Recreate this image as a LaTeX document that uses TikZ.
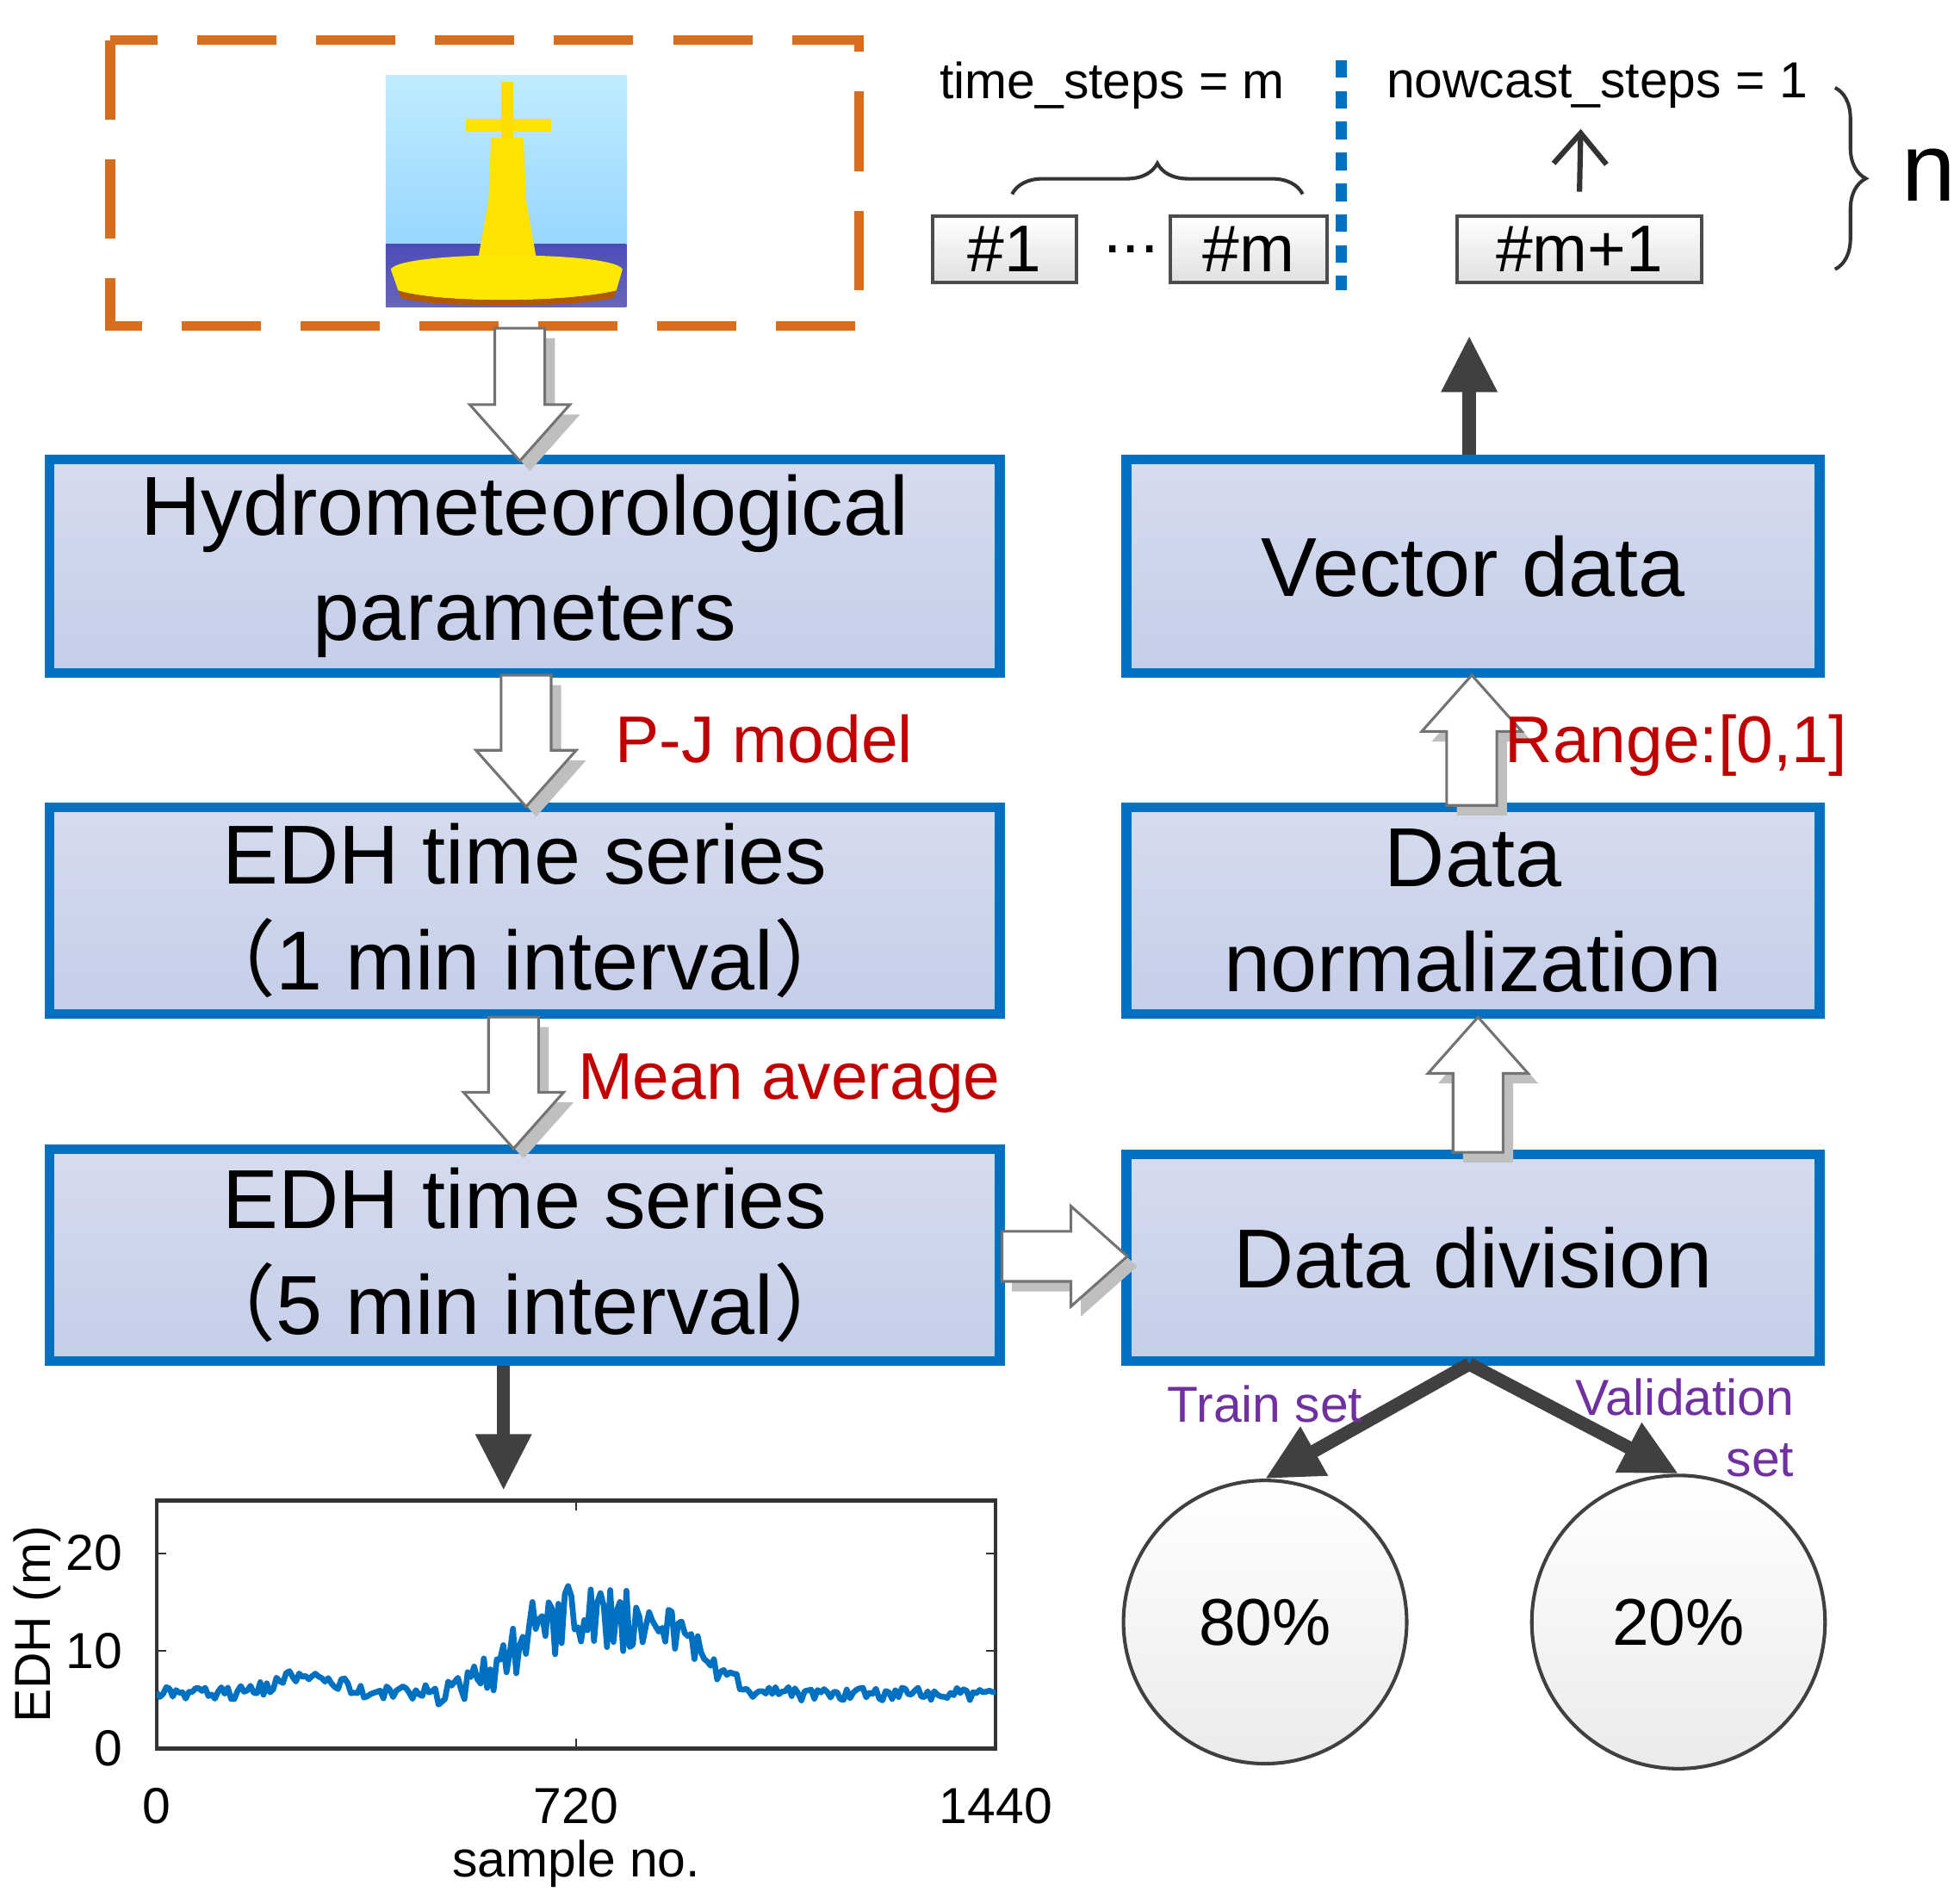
\documentclass[tikz,border=0pt]{standalone}
\usepackage{fontspec}
\setmainfont{Liberation Sans}
\newfontfamily\cjk{Noto Sans CJK SC}
\usetikzlibrary{decorations.pathreplacing,arrows.meta}
\definecolor{bblue}{RGB}{0,112,192}
\definecolor{bfill}{RGB}{214,220,238}
\definecolor{bfill2}{RGB}{196,206,232}
\definecolor{dred}{RGB}{192,0,0}
\definecolor{purp}{RGB}{112,48,160}
\definecolor{dorange}{RGB}{214,110,30}
\tikzset{
 box/.style={draw=bblue,line width=2.2pt,top color=bfill,bottom color=bfill2,align=center,font=\fontsize{19}{24}\selectfont,inner sep=0pt},
 sbox/.style={draw=black!70,line width=0.8pt,top color=white,bottom color=black!12,font=\fontsize{15}{18}\selectfont,inner sep=0pt},
 lab/.style={text=dred,font=\fontsize{15}{18}\selectfont},
 plab/.style={text=purp,font=\fontsize{11.5}{14}\selectfont},
 ttext/.style={font=\fontsize{11.5}{14}\selectfont},
 solid arrow/.style={draw=black!75,line width=3pt,-{Triangle[length=0.45cm,width=0.42cm]}},
 harrow/.style={fill=white,draw=black!55,line width=0.6pt},
 hshadow/.style={fill=black!25,draw=none},
 circ/.style={circle,draw=black!75,line width=0.8pt,top color=white,bottom color=black!8,font=\fontsize{15}{18}\selectfont}
}
\newcommand\darr[3]{%
 \fill[hshadow] ({#1-20+8},{#2+8})--({#1+20+8},{#2+8})--({#1+20+8},{#3-45+8})--({#1+40+8},{#3-45+8})--({#1+8},{#3+8})--({#1-40+8},{#3-45+8})--({#1-20+8},{#3-45+8})--cycle;
 \draw[harrow] ({#1-20},{#2})--({#1+20},{#2})--({#1+20},{#3-45})--({#1+40},{#3-45})--({#1},{#3})--({#1-40},{#3-45})--({#1-20},{#3-45})--cycle;}
\newcommand\uarr[3]{%
 \fill[hshadow] ({#1-20+8},{#2+8})--({#1+20+8},{#2+8})--({#1+20+8},{#3+45+8})--({#1+40+8},{#3+45+8})--({#1+8},{#3+8})--({#1-40+8},{#3+45+8})--({#1-20+8},{#3+45+8})--cycle;
 \draw[harrow] ({#1-20},{#2})--({#1+20},{#2})--({#1+20},{#3+45})--({#1+40},{#3+45})--({#1},{#3})--({#1-40},{#3+45})--({#1-20},{#3+45})--cycle;}
\newcommand\rarr[3]{%
 \fill[hshadow] ({#2+8},{#1-20+8})--({#2+8},{#1+20+8})--({#3-45+8},{#1+20+8})--({#3-45+8},{#1+40+8})--({#3+8},{#1+8})--({#3-45+8},{#1-40+8})--({#3-45+8},{#1-20+8})--cycle;
 \draw[harrow] ({#2},{#1-20})--({#2},{#1+20})--({#3-45},{#1+20})--({#3-45},{#1+40})--({#3},{#1})--({#3-45},{#1-40})--({#3-45},{#1-20})--cycle;}
\begin{document}
\begin{tikzpicture}[x=0.01cm,y=-0.01cm]
\useasboundingbox (0,0) rectangle (1560,1520);
% camera frame
\draw[dorange,line width=2.2pt,dash pattern=on 18pt off 9pt] (88,32) rectangle (686,260);
% buoy picture
\shade[top color=blue!30!cyan!25,bottom color=blue!40!cyan!40] (308,60) rectangle (500,195);
\shade[top color=blue!60!black!70,bottom color=blue!55!black!60] (308,195) rectangle (500,245);
\fill[yellow!85!orange] (392,110)--(418,110)--(420,160)--(428,205)--(382,205)--(390,160)--cycle;
\fill[yellow!85!orange] (372,95) rectangle (440,105);
\fill[yellow!80!orange] (400,65) rectangle (410,110);
\fill[yellow!90!orange] (312,215) .. controls (320,200) and (490,200) .. (497,215) -- (492,232) .. controls (450,242) and (350,242) .. (318,232) -- cycle;
\fill[orange!70!black] (318,232) .. controls (350,242) and (450,242) .. (492,232) -- (490,238) .. controls (450,246) and (350,246) .. (320,238) -- cycle;
% boxes
\node[box,minimum width=7.58cm,minimum height=1.70cm] (hydro) at (419,452) {Hydrometeorological\\parameters};
\node[box,minimum width=7.58cm,minimum height=1.65cm] (edh1) at (419,727) {EDH time series\\{\cjk （}1 min interval{\cjk ）}};
\node[box,minimum width=7.58cm,minimum height=1.69cm] (edh5) at (419,1002) {EDH time series\\{\cjk （}5 min interval{\cjk ）}};
\node[box,minimum width=5.53cm,minimum height=1.70cm] (vec) at (1176,452) {Vector data};
\node[box,minimum width=5.53cm,minimum height=1.65cm] (norm) at (1176,727) {Data\\normalization};
\node[box,minimum width=5.53cm,minimum height=1.65cm] (div) at (1176,1004) {Data division};
% hollow arrows
\darr{415}{262}{368}
\darr{420}{539}{644}
\darr{410}{812}{917}
\rarr{1003}{800}{900}
\uarr{1180}{920}{812}
\uarr{1175}{643}{539}
% labels
\node[lab] at (610,590) {P-J model};
\node[lab] at (630,865) {Mean average};
\node[lab] at (1338,595) {Range:[0,1]};
% solid arrows
\coordinate (vtop) at (1173,268);
\draw[solid arrow] (vec.north -| vtop) -- (vtop);
\coordinate (pt) at (402,1190);
\draw[solid arrow] (edh5.south -| pt) -- (pt);
% circles
\node[circ,minimum size=2.26cm] (c80) at (1010,1295) {80\%};
\node[circ,minimum size=2.34cm] (c20) at (1340,1295) {20\%};
\coordinate (dsplit) at (1173,1089);
\draw[solid arrow] (dsplit) -- (c80.north);
\draw[solid arrow] (dsplit) -- (c20.north);
\node[plab] at (1010,1121) {Train set};
\node[plab,align=right] at (1345,1140) {Validation\\set};
% top
\node[ttext] at (888,68) {time\_steps = m};
\node[ttext] at (1275,68) {nowcast\_steps = 1};
\draw[black!80,line width=0.8pt,decorate,decoration={brace,amplitude=7pt}] (808,155) -- (1040,155);
\node[sbox,minimum width=1.15cm,minimum height=0.53cm] (b1) at (802,199) {\#1};
\node[font=\fontsize{15}{18}\selectfont] (dots) at (903,199) {...};
\node[sbox,minimum width=1.25cm,minimum height=0.53cm] (bm) at (997,199) {\#m};
\node[sbox,minimum width=1.95cm,minimum height=0.53cm] (bm1) at (1261,199) {\#m+1};
\coordinate (nt) at (1262,103);
\draw[black!80,line width=1.2pt,-{Straight Barb[length=7pt,width=12pt]}] (bm1.north) ++(0,-18) -- (nt);
\draw[bblue,line width=2.5pt,dash pattern=on 4pt off 3pt] (1071,48) -- (1071,232);
\draw[black!80,line width=0.8pt,decorate,decoration={brace,amplitude=7pt}] (1465,70) -- (1465,215);
\node[font=\fontsize{22}{26}\selectfont] at (1540,140) {n};
% plot
\draw[black!80,line width=0.8pt] (125,1198) rectangle (795,1396);
\foreach \t/\l in {1396/0,1318/10,1240/20}{
 \draw[black!80] (125,\t) -- (133,\t); \draw[black!80] (795,\t) -- (787,\t);
 \node[ttext,anchor=east] at (110,\t) {\l};}
\foreach \xx/\l in {125/0,460/720,795/1440}{
 \draw[black!80] (\xx,1396) -- (\xx,1388); \draw[black!80] (\xx,1198) -- (\xx,1206);
 \node[ttext] at (\xx,1442) {\l};}
\node[ttext] at (460,1488) {sample no.};
\node[ttext,rotate=90] at (30,1297) {EDH (m)};
\pgfmathsetseed{7}
\begin{scope}[shift={(125,1396)},xscale=0.4653,yscale=-7.8]
\clip (0,0) rectangle (1440,25);
\draw[bblue,line width=1.3pt,line join=round] plot[samples=260,domain=0:1440]
 (\x,{5.6+2*exp(-((\x-260)/70)^2)+7.5*exp(-((\x-770)/190)^4)+rand*(0.7+3*exp(-((\x-720)/180)^2))});
\end{scope}
\end{tikzpicture}
\end{document}
